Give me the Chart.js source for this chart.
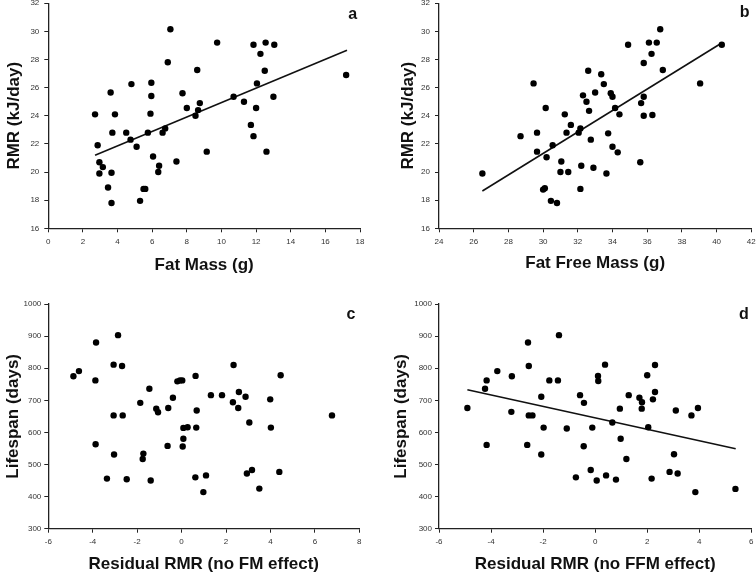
<!DOCTYPE html>
<html>
<head>
<meta charset="utf-8">
<script src="https://cdn.jsdelivr.net/npm/chart.js@4.4.1/dist/chart.umd.min.js"></script>
<style>
html, body { margin: 0; padding: 0; background: #fff; width: 756px; height: 573px; overflow: hidden; }
.panel { position: absolute; width: 378px; height: 290px; }
</style>
</head>
<body>
<div class="panel" id="panel_a" style="left:0;top:0"></div>
<div class="panel" id="panel_b" style="left:378px;top:0"></div>
<div class="panel" id="panel_c" style="left:0;top:290px"></div>
<div class="panel" id="panel_d" style="left:378px;top:290px"></div>
<script>
// a: RMR vs fat mass
const fatMass = [2.7, 2.85, 2.95, 2.95, 3.15, 3.45, 3.6, 3.65, 3.65, 3.7, 3.85, 4.5, 4.75, 4.8, 5.1, 5.3, 5.5, 5.6,
    5.75, 5.9, 5.95, 5.95, 6.05, 6.35, 6.4, 6.6, 6.75, 6.9, 7.05, 7.4, 7.75, 8.0, 8.5, 8.6, 8.65, 8.75, 9.15, 9.75,
    10.7, 11.3, 11.7, 11.85, 11.85, 12.0, 12.05, 12.25, 12.5, 12.55, 12.6, 13.0, 13.05, 17.2];
const rmrA = [24.1, 21.9, 20.7, 19.9, 20.35, 18.9, 25.65, 19.95, 17.8, 22.8, 24.1, 22.8, 22.3, 26.25, 21.8, 17.95, 18.8, 18.8,
    22.8, 24.15, 25.4, 26.35, 21.1, 20.0, 20.45, 22.8, 23.1, 27.8, 30.15, 20.75, 25.6, 24.55, 24.0, 27.25, 24.4, 24.9, 21.45, 29.2,
    25.35, 25.0, 23.35, 22.55, 29.05, 24.55, 26.3, 28.4, 27.2, 29.2, 21.45, 25.35, 29.05, 26.9];
const fitAX = [2.7, 17.25];
const fitAY = [21.2, 28.65];

// b: RMR vs fat free mass
const fatFreeMass = [26.5, 28.7, 29.45, 29.65, 29.65, 30.0, 30.1, 30.15, 30.2, 30.45, 30.55, 30.8, 31.0, 31.05, 31.25, 31.35,
    31.45, 31.6, 32.05, 32.15, 32.15, 32.2, 32.3, 32.5, 32.6, 32.65, 32.75, 32.9, 33.0, 33.35, 33.5, 33.65, 33.75, 33.9,
    34.0, 34.0, 34.15, 34.3, 34.4, 34.9, 35.6, 35.65, 35.8, 35.8, 35.8, 36.1, 36.25, 36.3, 36.55, 36.75, 36.9, 39.05, 40.3];
const rmrB = [19.9, 22.55, 26.3, 22.8, 21.45, 18.75, 18.85, 24.55, 21.05, 17.95, 21.9, 17.8, 20.0, 20.75, 24.1, 22.8,
    20.0, 23.35, 22.8, 23.1, 18.8, 20.45, 25.45, 25.0, 27.2, 24.35, 22.3, 20.3, 25.65, 26.95, 26.25, 19.9, 22.75, 25.6,
    25.35, 21.8, 24.55, 21.4, 24.1, 29.05, 20.7, 24.9, 27.75, 25.35, 24.0, 29.2, 28.4, 24.05, 29.2, 30.15, 27.25, 26.3, 29.05];
const fitBX = [26.5, 40.2];
const fitBY = [18.65, 29.1];

// c: lifespan vs residual RMR (no FM effect)
const residFM = [-4.87, -4.62, -3.85, -3.88, -3.87, -2.86, -3.06, -2.68, -3.06, -2.65, -3.04, -3.36, -2.47, -1.86, -1.45,
    -1.72, -1.75, -1.39, -1.14, -1.06, -0.6, -0.39, -0.63, -0.19, -0.07, 0.03, 0.08, 0.27, 0.08, 0.05, 0.63, 0.68, 0.66,
    0.62, 1.1, 0.98, 1.32, 1.82, 2.34, 2.31, 2.58, 2.55, 2.88, 3.05, 2.94, 3.17, 3.5, 3.99, 4.02, 4.4, 4.46, 6.77];
const lifespanC = [775, 791, 880, 762, 563, 903, 811, 807, 653, 653, 531, 456, 454, 692, 736,
    534, 517, 450, 674, 663, 676, 708, 558, 759, 762, 762, 614, 616, 580, 556, 776, 668, 615,
    460, 466, 414, 716, 716, 810, 694, 726, 676, 711, 631, 472, 483, 425, 703, 615, 477, 778, 653];

// d: lifespan vs residual RMR (no FFM effect)
const residFFM = [-4.91, -4.23, -4.17, -4.17, -3.76, -3.2, -3.22, -2.61, -2.58, -2.55, -2.55, -2.41, -2.07, -2.07, -1.98,
    -1.76, -1.43, -1.39, -1.09, -0.74, -0.58, -0.43, -0.44, -0.17, -0.11, 0.06, 0.11, 0.12, 0.38, 0.42, 0.66, 0.8, 0.95,
    0.98, 1.2, 1.29, 1.7, 1.8, 1.79, 2.0, 2.04, 2.17, 2.22, 2.3, 2.3, 2.86, 3.03, 3.1, 3.17, 3.7, 3.85, 3.95, 5.39];
const lifespanD = [676, 736, 762, 561, 791, 775, 664, 561, 880, 807, 653, 653, 711, 531, 615,
    762, 762, 903, 612, 460, 716, 692, 557, 483, 615, 450, 776, 760, 811, 466, 631, 453, 674,
    580, 517, 716, 708, 694, 674, 778, 616, 456, 703, 726, 810, 477, 532, 668, 472, 653, 414, 676, 424];
const fitDX = [-4.91, 5.4];
const fitDY = [733, 549];

const FONT = 'Arial, "Liberation Sans", sans-serif';
const W = 378, H = 290;

function toPoints(xs, ys) {
    return xs.map((x, i) => ({ x: x, y: ys[i] }));
}

const panelLetter = {
    id: 'panelLetter',
    afterDraw(chart, args, opts) {
        const ctx = chart.ctx;
        ctx.save();
        ctx.font = 'bold 16px ' + FONT;
        ctx.fillStyle = '#111';
        ctx.textAlign = 'center';
        ctx.textBaseline = 'alphabetic';
        ctx.fillText(opts.text, opts.x, opts.y);
        ctx.restore();
    }
};

function axis(range, title, titlePad, fitFn) {
    return {
        type: 'linear',
        min: range[0],
        max: range[1],
        ticks: {
            stepSize: range[2],
            autoSkip: false,
            maxRotation: 0,
            color: '#333',
            padding: range[3],
            font: { size: 8, family: FONT },
            callback: v => String(v)
        },
        grid: { drawOnChartArea: false, drawTicks: true, tickLength: 4, color: '#222', lineWidth: 1 },
        border: { display: true, color: '#222', width: 1.3 },
        title: {
            display: true,
            text: title,
            color: '#111',
            font: { size: 17, weight: 'bold', family: FONT },
            padding: titlePad
        },
        afterFit: fitFn
    };
}

function drawPanel(id, p) {
    const container = document.getElementById(id);
    const canvas = document.createElement('canvas');
    canvas.width = W;
    canvas.height = H;
    container.appendChild(canvas);

    const datasets = [{
        type: 'scatter',
        data: toPoints(p.xs, p.ys),
        backgroundColor: '#000',
        borderWidth: 0,
        pointRadius: 3.2,
        pointHoverRadius: 3.2
    }];
    if (p.fitX) {
        datasets.push({
            type: 'line',
            data: toPoints(p.fitX, p.fitY),
            borderColor: '#111',
            borderWidth: 1.6,
            pointRadius: 0,
            fill: false,
            tension: 0
        });
    }

    new Chart(canvas, {
        type: 'scatter',
        data: { datasets },
        options: {
            responsive: false,
            animation: false,
            devicePixelRatio: 1,
            layout: { padding: { left: 0, top: p.area.top, right: W - p.area.right, bottom: 0 } },
            plugins: {
                legend: { display: false },
                tooltip: { enabled: false },
                panelLetter: p.letter
            },
            scales: {
                x: axis(p.xRange, p.xTitle, { top: 0, bottom: p.xTitlePad }, s => {
                    s.height = H - p.area.bottom;
                    s.paddingLeft = 0;
                    s.paddingRight = 0;
                }),
                y: axis(p.yRange, p.yTitle, { top: p.yTitlePad, bottom: 0 }, s => {
                    s.width = p.area.left;
                    s.paddingTop = 0;
                    s.paddingBottom = 0;
                })
            }
        },
        plugins: [panelLetter]
    });
}

drawPanel('panel_a', {
    xs: fatMass, ys: rmrA, fitX: fitAX, fitY: fitAY,
    xRange: [0, 18, 2, 4.5], yRange: [16, 32, 2, 5],
    xTitle: 'Fat Mass (g)', yTitle: 'RMR (kJ/day)',
    xTitlePad: 14.4, yTitlePad: 4.2,
    area: { left: 48.3, right: 360, top: 2.7, bottom: 228.3 },
    letter: { text: 'a', x: 352.7, y: 19 }
});

drawPanel('panel_b', {
    xs: fatFreeMass, ys: rmrB, fitX: fitBX, fitY: fitBY,
    xRange: [24, 42, 2, 4.5], yRange: [16, 32, 2, 5],
    xTitle: 'Fat Free Mass (g)', yTitle: 'RMR (kJ/day)',
    xTitlePad: 16.1, yTitlePad: 20.2,
    area: { left: 61, right: 373.3, top: 2.4, bottom: 228.3 },
    letter: { text: 'b', x: 366.7, y: 16.7 }
});

drawPanel('panel_c', {
    xs: residFM, ys: lifespanC,
    xRange: [-6, 8, 2, 4], yRange: [300, 1000, 100, 3],
    xTitle: 'Residual RMR (no FM effect)', yTitle: 'Lifespan (days)',
    xTitlePad: 5.1, yTitlePad: 3.5,
    area: { left: 48.3, right: 359.3, top: 14, bottom: 238.7 },
    letter: { text: 'c', x: 351, y: 29.3 }
});

drawPanel('panel_d', {
    xs: residFFM, ys: lifespanD, fitX: fitDX, fitY: fitDY,
    xRange: [-6, 6, 2, 4], yRange: [300, 1000, 100, 3],
    xTitle: 'Residual RMR (no FFM effect)', yTitle: 'Lifespan (days)',
    xTitlePad: 5.1, yTitlePad: 12.8,
    area: { left: 61, right: 373.3, top: 14, bottom: 238.7 },
    letter: { text: 'd', x: 366, y: 29.3 }
});
</script>
</body>
</html>
